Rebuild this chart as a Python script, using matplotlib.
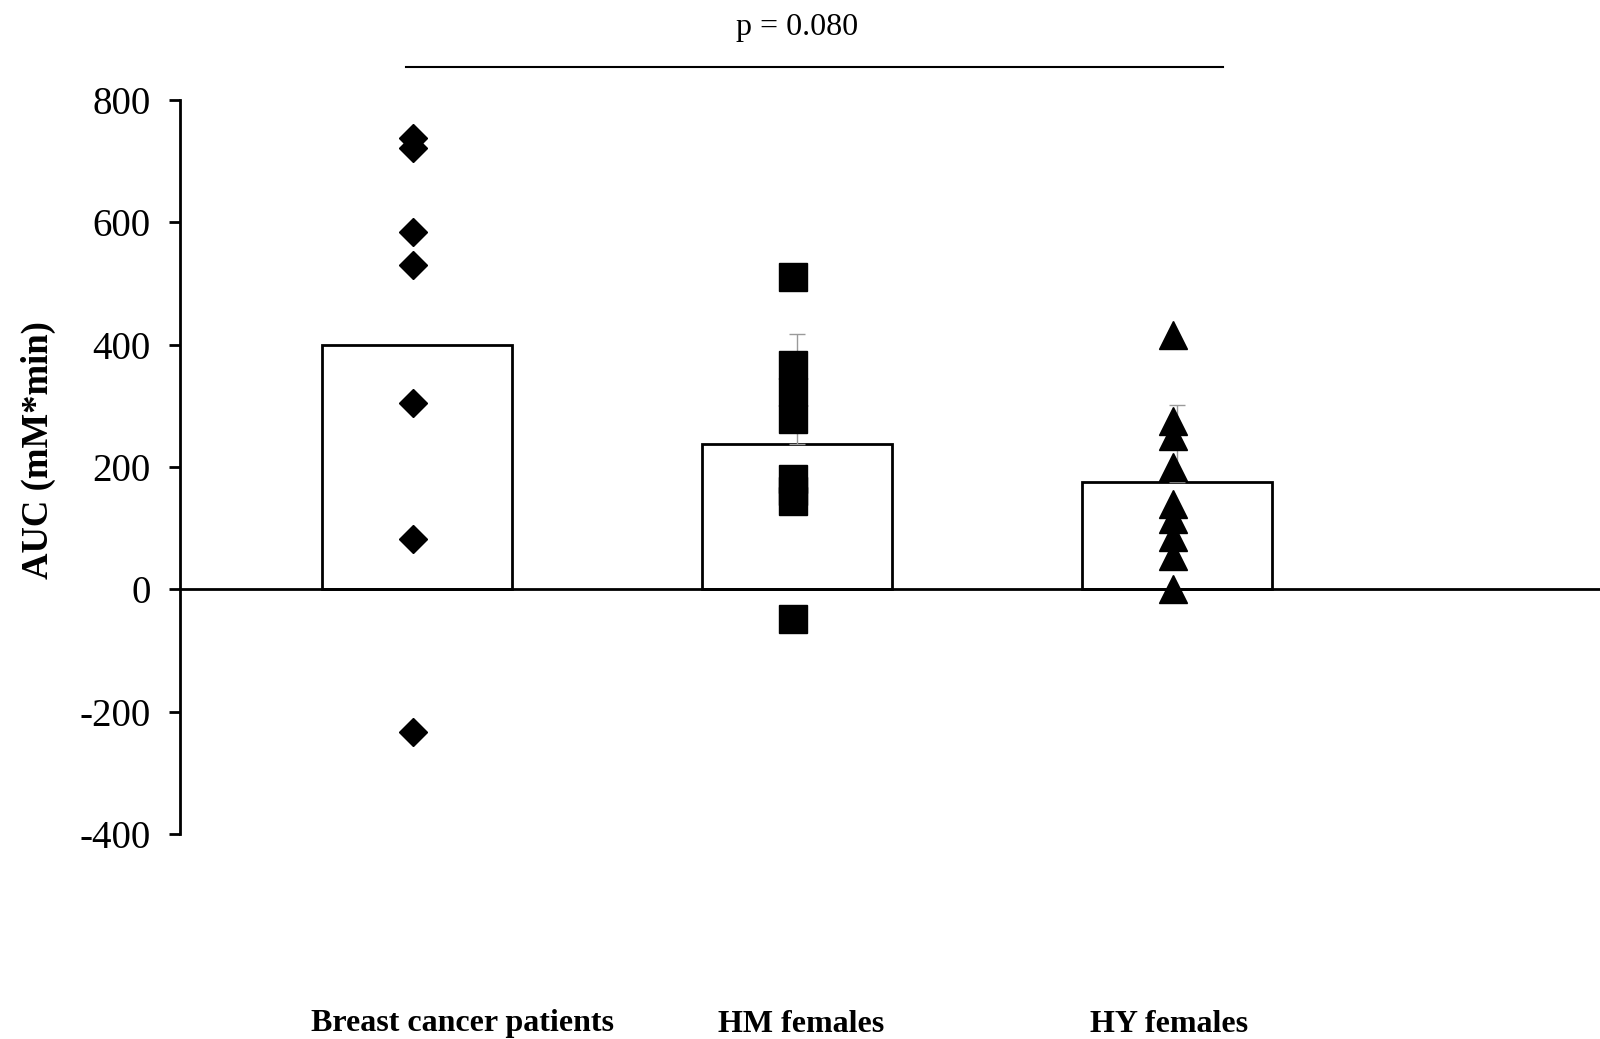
import matplotlib.pyplot as plt
from matplotlib.transforms import blended_transform_factory

plt.rcParams['font.family'] = ['Liberation Serif', 'DejaVu Serif']
plt.rcParams['axes.unicode_minus'] = False

groups = ["Breast cancer patients", "HM females", "HY females"]
means = [400, 237, 175]
sem_up = [0, 180, 126]

breast = [737, 721, 584, 530, 304, 83, -234]
hm = [510, 366, 322, 279, 181, 160, 145, -49]
hy = [415, 275, 250, 200, 140, 115, 85, 55, 0]
points = [breast, hm, hy]
markers = ["D", "s", "^"]
msizes = [14, 19.5, 19.5]

p_text = "p = 0.080"

fig = plt.figure(figsize=(16, 10.39), dpi=100)
ax = fig.add_axes([0.1125, 0.1973, 0.8875, 0.7065])

xs = list(range(len(groups)))
ax.bar(xs, means, width=0.5, color="white", edgecolor="black", linewidth=2, zorder=1)

for x, m, e in zip(xs, means, sem_up):
    if e > 0:
        ax.errorbar(x, m, yerr=[[0], [e]], fmt="none", ecolor="#9a9a9a",
                    elinewidth=1, capsize=6, capthick=1, zorder=2)

for x, vals, mk, ms in zip(xs, points, markers, msizes):
    ax.plot([x - 0.012] * len(vals), vals, linestyle="none", marker=mk,
            markersize=ms, color="black", zorder=3, clip_on=False)

ax.set_xlim(-0.624, 3.113)
ax.set_ylim(-400, 800)
ax.set_yticks(range(-400, 801, 200))
ax.tick_params(axis="y", direction="out", length=8, width=2, labelsize=28, pad=13)
ax.set_xticks([])

ax.spines["top"].set_visible(False)
ax.spines["right"].set_visible(False)
ax.spines["left"].set_linewidth(2)
ax.spines["bottom"].set_position(("data", 0))
ax.spines["bottom"].set_linewidth(2)

ax.set_ylabel("AUC (mM*min)", fontsize=26.5, fontweight="bold")
ax.yaxis.set_label_coords(-0.087, 0.5225)

trans = blended_transform_factory(ax.transData, fig.transFigure)
label_x = [0.12, 0.01, -0.02]
for x, dx, g in zip(xs, label_x, groups):
    ax.text(x + dx, 1 - 1024 / 1039, g, transform=trans, ha="center", va="center",
            fontsize=23, fontweight="bold")

# significance line
ax.plot([-0.03, 2.12], [1 - 67 / 1039] * 2, color="black", linewidth=1.5,
        transform=trans, clip_on=False)
ax.text(1.0, 1 - 27 / 1039, p_text, transform=trans, ha="center", va="center",
        fontsize=23)

fig.savefig("out.png", dpi=100)
